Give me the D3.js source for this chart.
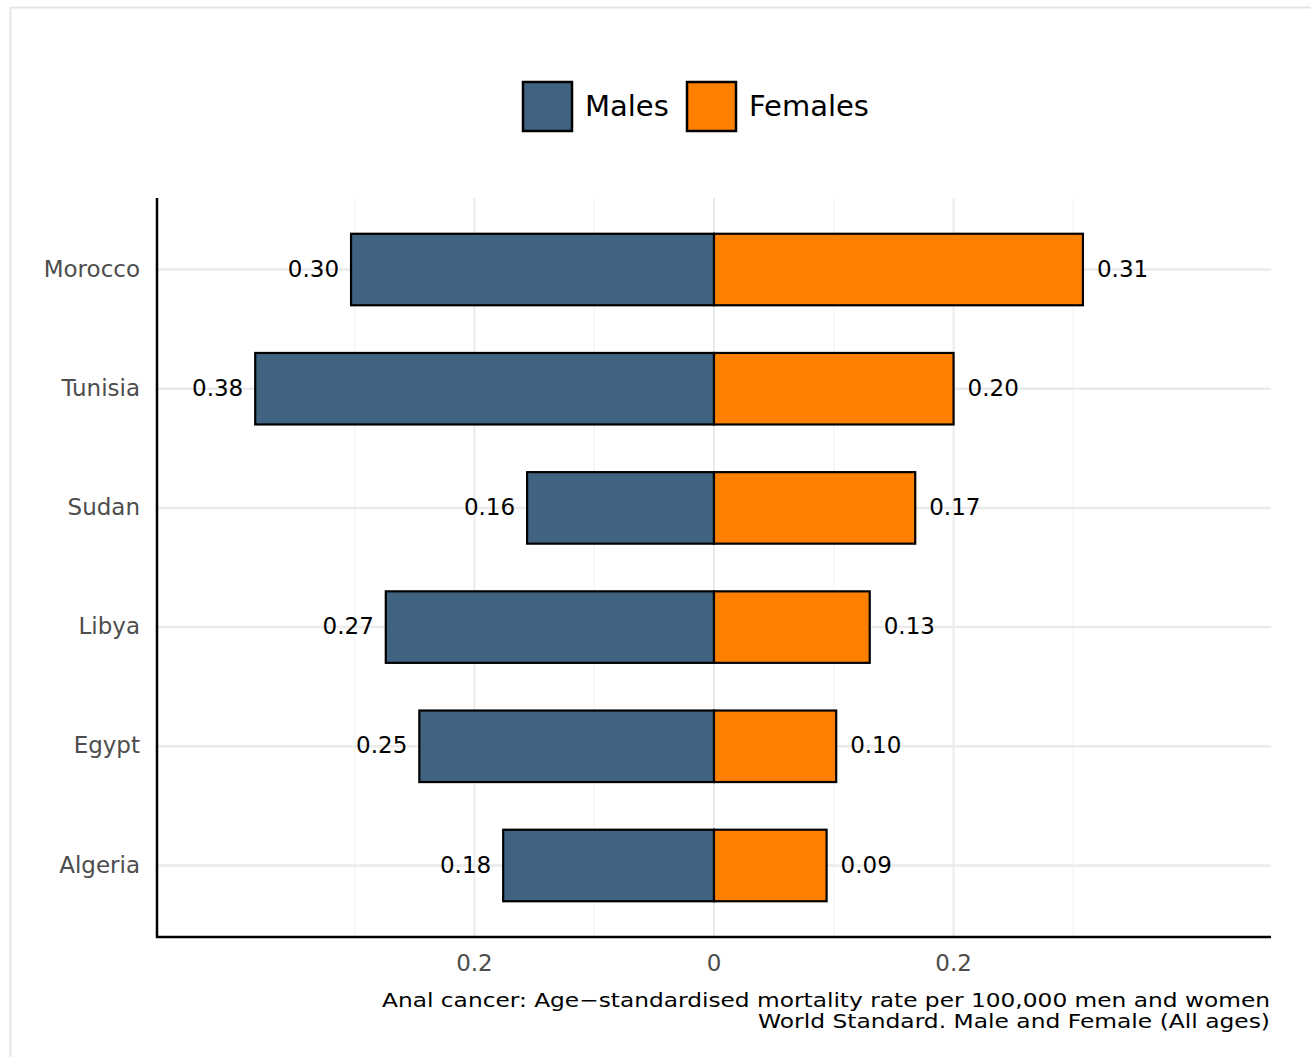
<!DOCTYPE html>
<html>
<head>
<meta charset="utf-8">
<script src="https://cdn.jsdelivr.net/npm/d3@7"></script>
<style>
  body { margin: 0; background: #fff; }
  text { font-family: "DejaVu Sans", sans-serif; }
</style>
</head>
<body>
<svg id="chart" width="1311" height="1057"></svg>
<script>
var countries = ["Morocco", "Tunisia", "Sudan", "Libya", "Egypt", "Algeria"];
var males = [0.303, 0.383, 0.156, 0.274, 0.246, 0.176];
var females = [0.308, 0.200, 0.168, 0.130, 0.102, 0.094];
var majorTicks = [-0.2, 0, 0.2];
var minorTicks = [-0.3, -0.1, 0.1, 0.3];
var seriesNames = ["Males", "Females"];
var seriesColors = ["#3f6381", "#ff8000"];

var svg = d3.select("#chart");
var labelSize = 23;

// outer panel border (runs off the page at right and bottom)
svg.append("rect")
  .attr("x", 10.5).attr("y", 7.5)
  .attr("width", 1320).attr("height", 1100)
  .attr("fill", "none")
  .attr("stroke", "#e6e6e6")
  .attr("stroke-width", 2);

var plotLeft = 157, plotRight = 1271, plotTop = 198, plotBottom = 937;

var x = d3.scaleLinear().domain([-0.465, 0.465]).range([plotLeft, plotRight]);
var y = d3.scalePoint().domain(countries).range([plotTop, plotBottom]).padding(0.6);
var barH = y.step() * 0.6;

// grid
svg.append("g").selectAll("line.minor")
  .data(minorTicks).enter().append("line")
  .attr("x1", d => x(d)).attr("x2", d => x(d))
  .attr("y1", plotTop).attr("y2", plotBottom)
  .attr("stroke", "#f5f5f5").attr("stroke-width", 1.5);

svg.append("g").selectAll("line.major")
  .data(majorTicks).enter().append("line")
  .attr("x1", d => x(d)).attr("x2", d => x(d))
  .attr("y1", plotTop).attr("y2", plotBottom)
  .attr("stroke", "#ebebeb").attr("stroke-width", 2);

svg.append("g").selectAll("line.hgrid")
  .data(countries).enter().append("line")
  .attr("x1", plotLeft).attr("x2", plotRight)
  .attr("y1", d => y(d)).attr("y2", d => y(d))
  .attr("stroke", "#ebebeb").attr("stroke-width", 2.5);

// bars
var rows = countries.map((c, i) => ({ country: c, m: males[i], f: females[i] }));

svg.append("g").selectAll("rect.m")
  .data(rows).enter().append("rect")
  .attr("x", d => x(-d.m)).attr("y", d => y(d.country) - barH / 2)
  .attr("width", d => x(0) - x(-d.m)).attr("height", barH)
  .attr("fill", seriesColors[0])
  .attr("stroke", "#000").attr("stroke-width", 2.2);

svg.append("g").selectAll("rect.f")
  .data(rows).enter().append("rect")
  .attr("x", x(0)).attr("y", d => y(d.country) - barH / 2)
  .attr("width", d => x(d.f) - x(0)).attr("height", barH)
  .attr("fill", seriesColors[1])
  .attr("stroke", "#000").attr("stroke-width", 2.2);

// value labels
svg.append("g").selectAll("text.m")
  .data(rows).enter().append("text")
  .attr("x", d => x(-d.m) - 12).attr("y", d => y(d.country) - 1)
  .attr("dy", "0.35em").attr("text-anchor", "end")
  .attr("font-size", labelSize).attr("fill", "#000")
  .text(d => d.m.toFixed(2));

svg.append("g").selectAll("text.f")
  .data(rows).enter().append("text")
  .attr("x", d => x(d.f) + 14).attr("y", d => y(d.country) - 1)
  .attr("dy", "0.35em").attr("text-anchor", "start")
  .attr("font-size", labelSize).attr("fill", "#000")
  .text(d => d.f.toFixed(2));

// y axis labels
svg.append("g").selectAll("text.cat")
  .data(countries).enter().append("text")
  .attr("x", 140).attr("y", d => y(d) - 1)
  .attr("dy", "0.35em").attr("text-anchor", "end")
  .attr("font-size", labelSize).attr("fill", "#4d4d4d")
  .text(d => d);

// x tick labels
svg.append("g").selectAll("text.tick")
  .data(majorTicks).enter().append("text")
  .attr("x", d => x(d)).attr("y", 963)
  .attr("dy", "0.35em").attr("text-anchor", "middle")
  .attr("font-size", labelSize).attr("fill", "#4d4d4d")
  .text(d => d3.format("")(Math.abs(d)));

// axis lines
svg.append("line")
  .attr("x1", plotLeft).attr("x2", plotLeft).attr("y1", plotTop).attr("y2", plotBottom + 1)
  .attr("stroke", "#000").attr("stroke-width", 2.5);
svg.append("line")
  .attr("x1", plotLeft - 1).attr("x2", plotRight).attr("y1", plotBottom).attr("y2", plotBottom)
  .attr("stroke", "#000").attr("stroke-width", 2.5);

// caption
svg.append("text")
  .attr("x", 1270).attr("y", 1007).attr("text-anchor", "end")
  .attr("font-size", 20).attr("fill", "#000")
  .attr("textLength", 888).attr("lengthAdjust", "spacingAndGlyphs")
  .text("Anal cancer: Age\u2212standardised mortality rate per 100,000 men and women");
svg.append("text")
  .attr("x", 1270).attr("y", 1028).attr("text-anchor", "end")
  .attr("font-size", 20).attr("fill", "#000")
  .attr("textLength", 512).attr("lengthAdjust", "spacingAndGlyphs")
  .text("World Standard. Male and Female (All ages)");

// legend
var legendX = [523, 687];
var lg = svg.append("g").selectAll("g")
  .data(seriesNames).enter().append("g")
  .attr("transform", (d, i) => "translate(" + legendX[i] + ",82)");
lg.append("rect")
  .attr("width", 49).attr("height", 49)
  .attr("fill", (d, i) => seriesColors[i])
  .attr("stroke", "#000").attr("stroke-width", 2.5);
lg.append("text")
  .attr("x", 62).attr("y", 24).attr("dy", "0.35em")
  .attr("font-size", 29).attr("fill", "#000")
  .text(d => d);
</script>
</body>
</html>
